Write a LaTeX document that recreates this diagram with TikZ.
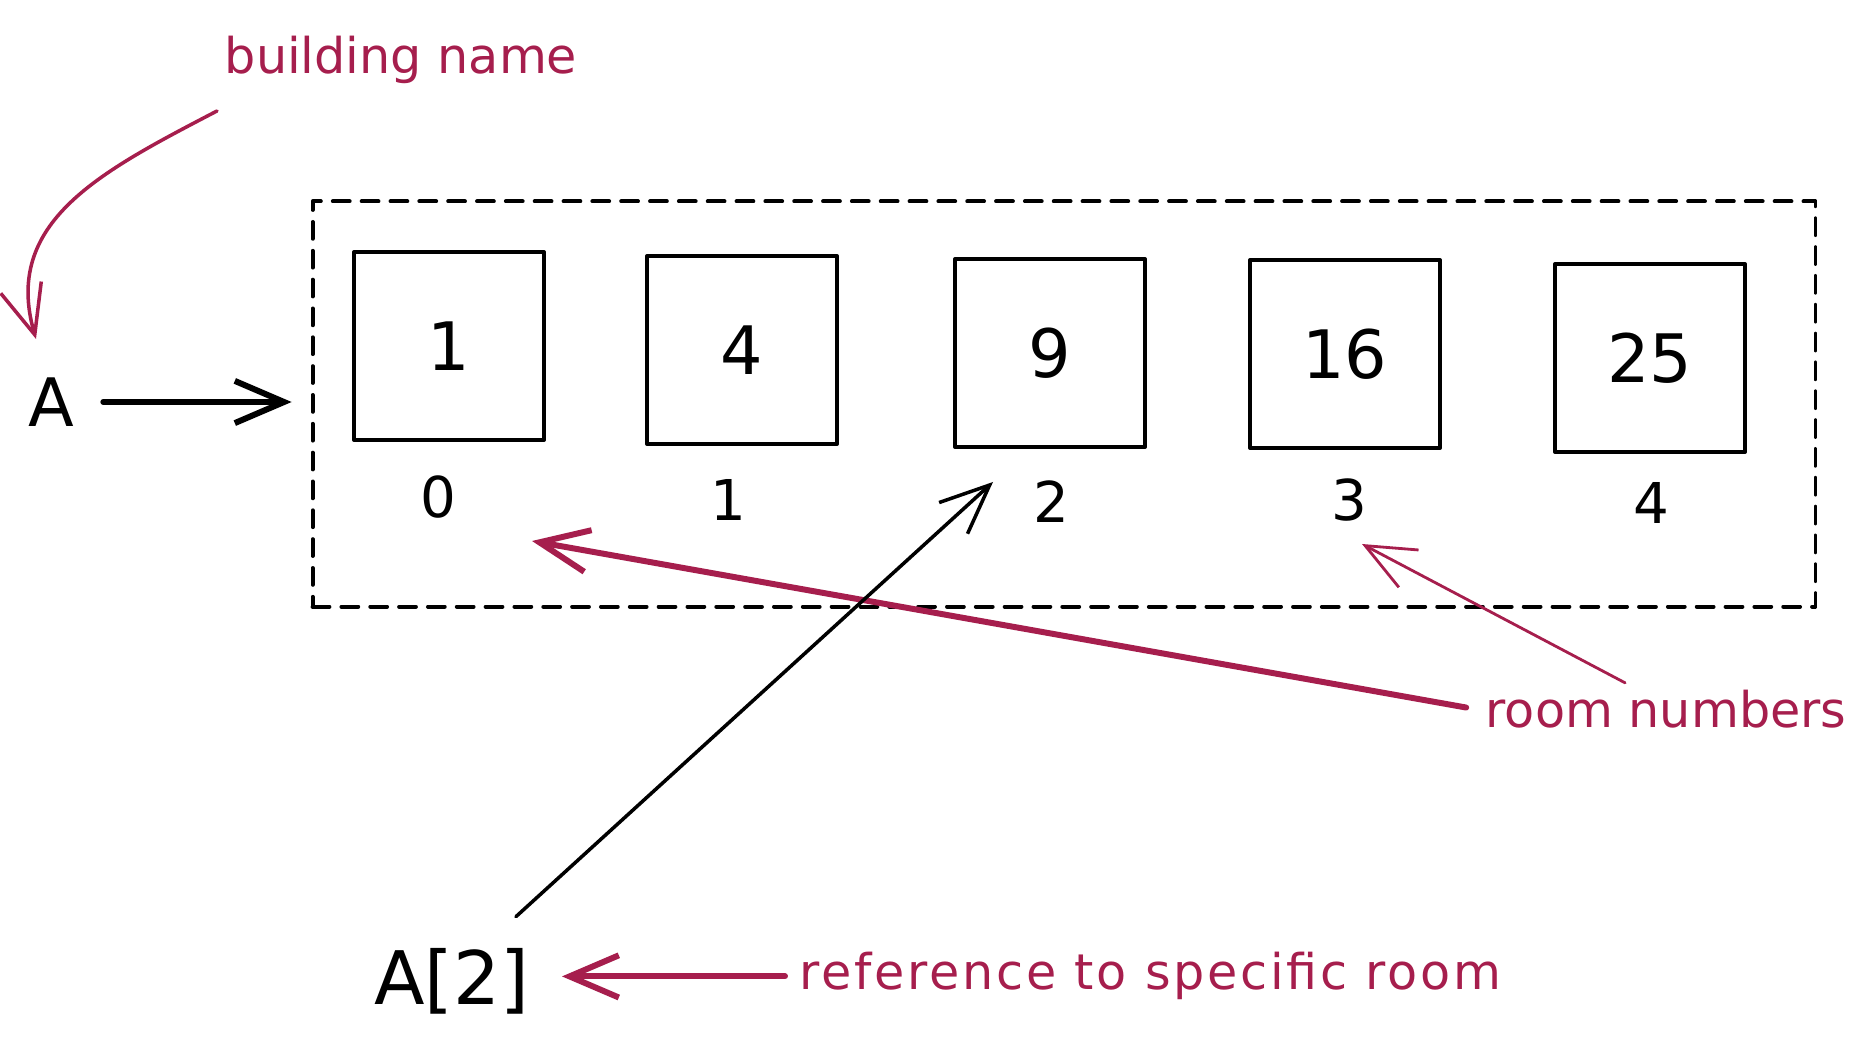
\documentclass[tikz,border=0pt]{standalone}
\usepackage{fontspec}
\setmainfont{DejaVu Sans}
\usetikzlibrary{arrows.meta}
\usepackage{xcolor}
\definecolor{Note}{RGB}{166,30,77}

\begin{document}
\begin{tikzpicture}[x=0.01cm, y=-0.01cm, >={Straight Barb[length=14pt,width=12pt]},
  line cap=round, line join=round,
  room/.style={draw, line width=1.1pt, minimum width=1.9cm, minimum height=1.88cm, font=\fontsize{19}{22}\selectfont},
  idx/.style={font=\fontsize{16}{19}\selectfont},
  notetext/.style={text=Note, inner sep=2pt, anchor=base west, font=\fontsize{14}{17}\selectfont}]
\useasboundingbox (0,0) rectangle (1865,1052);

% the building and its rooms
\node[draw, dash pattern=on 4.8pt off 3.4pt, line width=1.1pt, minimum width=15.02cm, minimum height=4.05cm] (building) at (1064,404) {};
\node[room] (b0) at (449,346) {1};
\node[room] (b1) at (742,350) {4};
\node[room] (b2) at (1050,353) {9};
\node[room] (b3) at (1345,354) {16};
\node[room] (b4) at (1650,358) {25};

\node[idx] (i0) at (438,497) {0};
\node[idx] (i1) at (728,500) {1};
\node[idx] (i2) at (1051,502) {2};
\node[idx] (i3) at (1349,500) {3};
\node[idx] (i4) at (1651,503) {4};

\node[font=\fontsize{19}{22}\selectfont] (arr) at (51,402) {A};
\node[font=\fontsize{21}{25}\selectfont] (aref) at (452,981) {A[2]};

% notes
\node[notetext] (bname) at (217,74) {building name};
\node[notetext] (rooms) at (1478,728) {room numbers};
\node[notetext] (reflbl) at (792,990) {\addfontfeature{LetterSpace=5.5}reference to specific room};

\coordinate (btip) at (36,339);
\coordinate (i0tip) at (532,541);
\coordinate (i3tip) at (1362,544);
\coordinate (b2tip) at (993,482);

\draw[->, line width=1.7pt, shorten <=0.17cm, shorten >=0.19cm] (arr.east) -- (arr.east -| building.west);
\draw[->, Note, line width=1pt] ([yshift=-0.19cm]bname.south west) .. controls (100,172) and (2,222) .. (btip);
\draw[->, Note, line width=1.7pt, shorten <=0.12cm] (rooms.west) -- (i0tip);
\draw[->, Note, line width=0.8pt] ([xshift=-0.41cm]rooms.north) -- (i3tip);
\draw[->, line width=1pt] ([xshift=-0.26cm,yshift=0.19cm]aref.north east) -- (b2tip);
\draw[->, Note, line width=1.7pt, shorten <=0.07cm, shorten >=0.2cm] (reflbl.west) -- (reflbl.west -| aref.east);
\end{tikzpicture}
\end{document}
